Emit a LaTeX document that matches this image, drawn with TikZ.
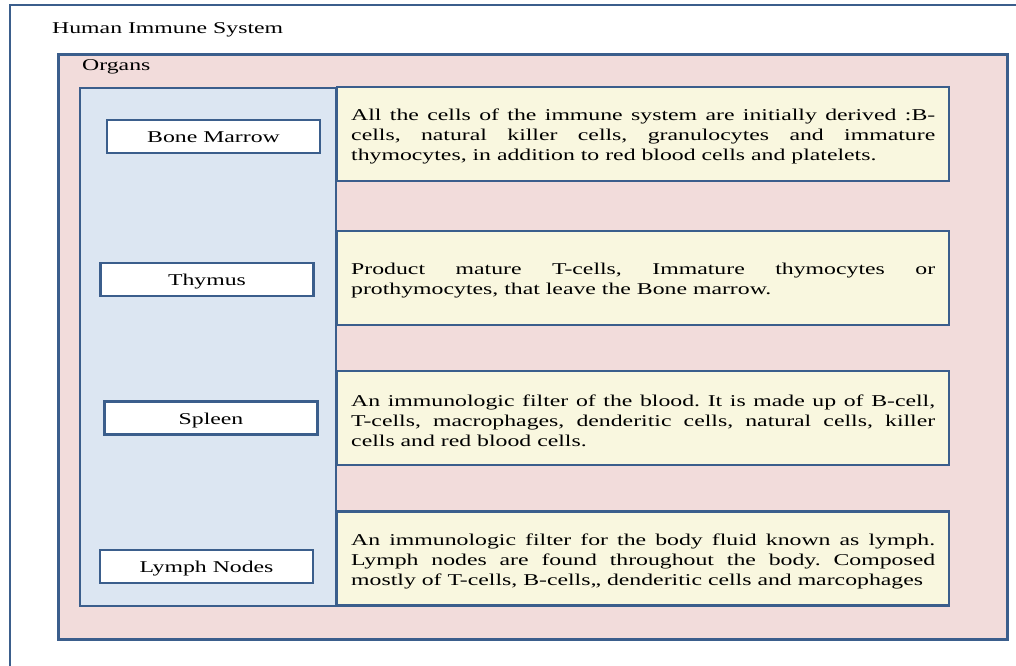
\documentclass[tikz,border=0pt]{standalone}
\usepackage{fontspec}
\setmainfont{Liberation Serif}[FakeStretch=1.44]
\usetikzlibrary{positioning}
\definecolor{frameblue}{HTML}{3B5E8C}
\definecolor{organpink}{HTML}{F2DCDB}
\definecolor{colblue}{HTML}{DCE6F2}
\definecolor{notecream}{HTML}{F9F7DF}
\frenchspacing

\begin{document}
\begin{tikzpicture}[x=1pt,y=-1pt,line join=miter,
    every node/.style={font=\fontsize{16.5}{20}\selectfont},
    frame/.style={draw=frameblue,line width=2.8pt},
    organ/.style={frame,line width=2.6pt,fill=white,minimum width=213pt,minimum height=33pt,inner sep=0pt,text height=12pt,text depth=0pt},
    note/.style={frame,line width=2.4pt,fill=notecream,text width=584pt,minimum height=94pt,inner sep=14pt,align=justify,anchor=west,execute at begin node={\rule{0pt}{17pt}}}]
    \useasboundingbox (0,0) rectangle (1016,665);
    \draw[frame] (10,668)--(10,5)--(1019,5);% outer frame, cut by the page
    \node[anchor=base west,inner sep=0pt] (title) at (52,33) {Human Immune System};
    \node[frame,fill=organpink,minimum width=949pt,minimum height=585pt,anchor=north west,inner sep=0pt] (organbox) at (57,53) {};
    \node[anchor=base west,inner sep=0pt] (organs) at (82,70) {Organs};
    \node[frame,line width=2.4pt,fill=colblue,minimum width=256pt,minimum height=518pt,anchor=north west,inner sep=0pt] (col) at (79,87) {};
    % one row per organ: note centre, box centre, box x, name, text
    \foreach \yn/\yo/\xo/\org/\txt [count=\j] in {
        134/136.5/213.5/{Bone Marrow}/{All the cells of the immune system are initially derived :B-\linebreak cells, natural killer cells, granulocytes and immature\linebreak thymocytes, in addition to red blood cells and platelets.},
        278/279.5/207/{Thymus}/{Product mature T-cells, Immature thymocytes or\linebreak prothymocytes, that leave the Bone marrow.},
        418/418/211/{Spleen}/{An immunologic filter of the blood. It is made up of B-cell,\linebreak T-cells, macrophages, denderitic cells, natural cells, killer\linebreak cells and red blood cells.},
        558.5/566.5/206.5/{Lymph Nodes}/{An immunologic filter for the body fluid known as lymph.\linebreak Lymph nodes are found throughout the body. Composed\linebreak mostly of T-cells, B-cells,, denderitic cells and marcophages}}{
            \node[note] (note\j) at (336,\yn) {\txt};
            \node[organ] (org\j) at (\xo,\yo) {\org};
        }
\end{tikzpicture}
\end{document}
